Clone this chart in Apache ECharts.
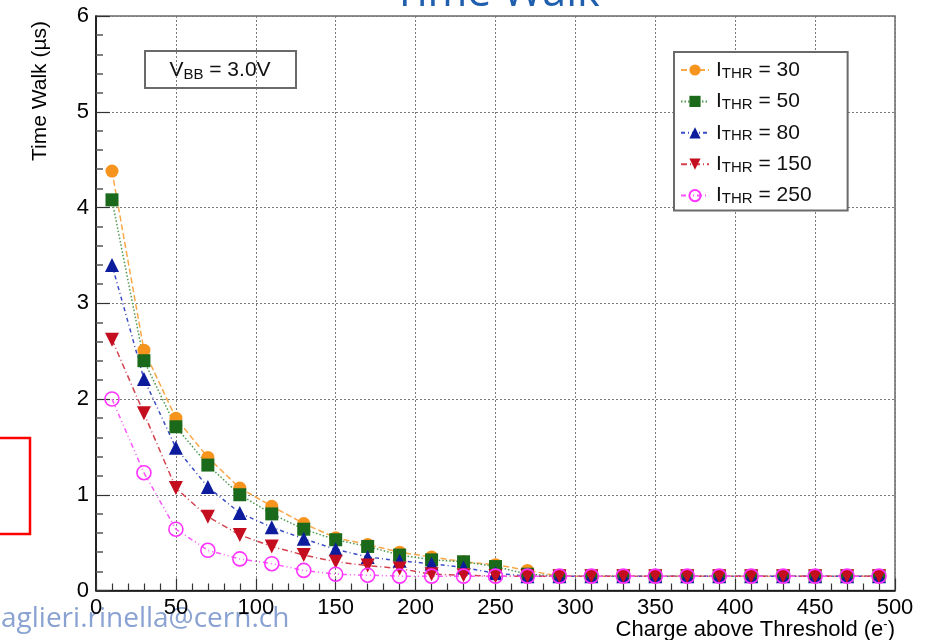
<!DOCTYPE html>
<html>
<head>
<meta charset="utf-8">
<script src="https://cdn.jsdelivr.net/npm/echarts@6/dist/echarts.min.js"></script>
<style>
  html, body { margin: 0; padding: 0; background: #fff; }
  #chart { width: 933px; height: 640px; }
</style>
</head>
<body>
<div id="chart"></div>
<script>
// Charge above threshold (e-) at which each time-walk point was measured
const charge = [10, 30, 50, 70, 90, 110, 130, 150, 170, 190, 210, 230, 250,
                270, 290, 310, 330, 350, 370, 390, 410, 430, 450, 470, 490];

// Time walk (µs) per threshold current setting
const walkThr30  = [4.38, 2.51, 1.80, 1.39, 1.07, 0.88, 0.70, 0.55, 0.48, 0.40, 0.35, 0.30, 0.27,
                    0.21, 0.15, 0.15, 0.15, 0.15, 0.15, 0.15, 0.15, 0.15, 0.15, 0.15, 0.15];
const walkThr50  = [4.08, 2.40, 1.71, 1.31, 1.00, 0.80, 0.64, 0.53, 0.46, 0.37, 0.32, 0.30, 0.25,
                    0.17, 0.15, 0.15, 0.15, 0.15, 0.15, 0.15, 0.15, 0.15, 0.15, 0.15, 0.15];
const walkThr80  = [3.40, 2.21, 1.49, 1.08, 0.81, 0.66, 0.54, 0.43, 0.35, 0.31, 0.28, 0.24, 0.18,
                    0.15, 0.15, 0.15, 0.15, 0.15, 0.15, 0.15, 0.15, 0.15, 0.15, 0.15, 0.15];
const walkThr150 = [2.62, 1.85, 1.07, 0.77, 0.58, 0.46, 0.37, 0.30, 0.26, 0.23, 0.17, 0.16, 0.15,
                    0.15, 0.15, 0.15, 0.15, 0.15, 0.15, 0.15, 0.15, 0.15, 0.15, 0.15, 0.15];
const walkThr250 = [2.00, 1.23, 0.64, 0.42, 0.33, 0.28, 0.21, 0.17, 0.16, 0.15, 0.15, 0.15, 0.15,
                    0.15, 0.15, 0.15, 0.15, 0.15, 0.15, 0.15, 0.15, 0.15, 0.15, 0.15, 0.15];

// Threshold current values shown in the legend
const thrValues = [30, 50, 80, 150, 250];

// Axis ticks
const xTicks = [0, 50, 100, 150, 200, 250, 300, 350, 400, 450, 500];
const yTicks = [0, 1, 2, 3, 4, 5, 6];

const FONT = '"Liberation Sans", Arial, Helvetica, sans-serif';

function pairs(ys) {
  return charge.map((x, i) => [x, ys[i]]);
}

const seriesDefs = [
  { thr: thrValues[0], data: walkThr30,  symbol: 'circle',   size: 13, rotate: 0,
    color: '#f7941e', lineColor: '#f9a84a', dash: [6, 3] },
  { thr: thrValues[1], data: walkThr50,  symbol: 'rect',     size: 13, rotate: 0,
    color: '#1b6a1b', lineColor: '#4f9a4f', dash: [1.5, 2] },
  { thr: thrValues[2], data: walkThr80,  symbol: 'triangle', size: 14, rotate: 0,
    color: '#0c1c9c', lineColor: '#3a4dc6', dash: [4, 3, 1, 3] },
  { thr: thrValues[3], data: walkThr150, symbol: 'triangle', size: 14, rotate: 180,
    color: '#c40d1e', lineColor: '#d4424e', dash: [6, 3, 1, 3] },
  { thr: thrValues[4], data: walkThr250, symbol: 'circle',   size: 14, rotate: 0,
    color: '#ff33ff', lineColor: '#ff55ff', dash: [5, 3, 1, 3, 1, 3], hollow: true }
];

const series = seriesDefs.map(d => ({
  name: 'I_THR = ' + d.thr,
  type: 'line',
  data: pairs(d.data),
  symbol: d.symbol,
  symbolSize: d.size,
  symbolRotate: d.rotate,
  showAllSymbol: true,
  z: 3,
  lineStyle: { color: d.lineColor, width: 1.5, type: d.dash },
  itemStyle: d.hollow
    ? { color: 'rgba(255,255,255,0)', borderColor: d.color, borderWidth: 1.6 }
    : { color: d.color, borderWidth: 0 },
  emphasis: { disabled: true },
  animation: false
}));

const chart = echarts.init(document.getElementById('chart'), null, { renderer: 'canvas' });

chart.setOption({
  backgroundColor: '#ffffff',
  animation: false,
  title: {
    text: 'Time Walk',
    left: 393,
    top: -28,
    padding: 0,
    textStyle: {
      color: '#1f5fae',
      fontFamily: '"Open Sans", "Noto Sans", sans-serif',
      fontWeight: 'normal',
      fontSize: 43
    }
  },
  grid: {
    left: 96, right: 38, top: 16, bottom: 49.5,
    show: true,
    borderColor: '#6a6a6a',
    borderWidth: 1.5,
    backgroundColor: '#ffffff'
  },
  legend: {
    orient: 'vertical',
    left: 674,
    top: 52,
    padding: [4, 36, 4, 6],
    itemGap: 6.4,
    itemWidth: 28,
    itemHeight: 14,
    backgroundColor: '#ffffff',
    borderColor: '#6a6a6a',
    borderWidth: 2,
    selectedMode: false,
    data: series.map(s => s.name),
    formatter: function (name) {
      const v = name.split('= ')[1];
      return '{i|I}{sub|THR}{eq| = ' + v + '}';
    },
    textStyle: {
      rich: {
        i:   { fontFamily: FONT, fontSize: 21, color: '#111', lineHeight: 22, padding: [0, 0, 0, 2] },
        sub: { fontFamily: FONT, fontSize: 15, color: '#111', lineHeight: 22, verticalAlign: 'bottom', padding: [10, 0, 0, 0] },
        eq:  { fontFamily: FONT, fontSize: 21, color: '#111', lineHeight: 22 }
      }
    }
  },
  xAxis: {
    type: 'value',
    min: xTicks[0],
    max: xTicks[xTicks.length - 1],
    interval: 50,
    axisLine: { show: true, onZero: false, lineStyle: { color: '#000', width: 1.5 } },
    axisTick: { show: true, inside: true, length: 12, lineStyle: { color: '#333', width: 1.2 } },
    minorTick: { show: true, splitNumber: 5, length: 7, lineStyle: { color: '#333', width: 1.2 } },
    splitLine: { show: true, lineStyle: { color: '#7a7a7a', width: 1, type: [2, 2] } },
    axisLabel: {
      margin: 6,
      color: '#000',
      fontFamily: FONT,
      fontSize: 22,
      formatter: v => (xTicks.indexOf(v) >= 0 ? String(v) : '')
    }
  },
  yAxis: {
    type: 'value',
    min: yTicks[0],
    max: yTicks[yTicks.length - 1],
    interval: 1,
    axisLine: { show: true, onZero: false, lineStyle: { color: '#000', width: 1.5 } },
    axisTick: { show: true, inside: true, length: 14, lineStyle: { color: '#333', width: 1.2 } },
    minorTick: { show: true, splitNumber: 5, length: 7, lineStyle: { color: '#555', width: 1.5 } },
    splitLine: { show: true, lineStyle: { color: '#7a7a7a', width: 1, type: [2, 2] } },
    axisLabel: {
      margin: 7,
      color: '#000',
      fontFamily: FONT,
      fontSize: 22,
      formatter: v => (yTicks.indexOf(v) >= 0 ? String(v) : '')
    }
  },
  graphic: [
    // axis titles
    {
      type: 'text',
      x: 40, y: 91,
      rotation: Math.PI / 2,
      style: {
        text: 'Time Walk (µs)',
        fontFamily: FONT, fontSize: 21, fill: '#000',
        align: 'center', verticalAlign: 'middle'
      }
    },
    {
      type: 'text',
      x: 895, y: 630,
      style: {
        text: 'Charge above Threshold (e{sup|-})',
        fontFamily: FONT, fontSize: 22, fill: '#000',
        align: 'right', verticalAlign: 'middle',
        rich: { sup: { fontFamily: FONT, fontSize: 13, fill: '#000', padding: [0, 0, 11, 0] } }
      }
    },
    // bias voltage box
    {
      type: 'group',
      z: 10,
      children: [
        {
          type: 'rect',
          shape: { x: 145, y: 51, width: 151, height: 37 },
          style: { fill: '#fff', stroke: '#6a6a6a', lineWidth: 2 }
        },
        {
          type: 'text',
          x: 220, y: 70,
          style: {
            text: '{v|V}{s|BB}{v| = 3.0V}',
            align: 'center', verticalAlign: 'middle',
            rich: {
              v: { fontFamily: FONT, fontSize: 21, fill: '#111', lineHeight: 22 },
              s: { fontFamily: FONT, fontSize: 15, fill: '#111', lineHeight: 22, padding: [10, 0, 0, 0] }
            }
          }
        }
      ]
    },
    // contact line at the page foot
    {
      type: 'text',
      x: 1, y: 619,
      style: {
        text: 'aglieri.rinella@cern.ch',
        fontFamily: '"Open Sans", "Noto Sans", sans-serif',
        fontSize: 28, fill: '#8aa2d2',
        align: 'left', verticalAlign: 'middle'
      }
    },
    // red outline at the left margin
    {
      type: 'rect',
      shape: { x: -10, y: 438, width: 40, height: 96 },
      style: { fill: 'none', stroke: '#ff0000', lineWidth: 2.5 }
    }
  ],
  series: series
});
</script>
</body>
</html>
